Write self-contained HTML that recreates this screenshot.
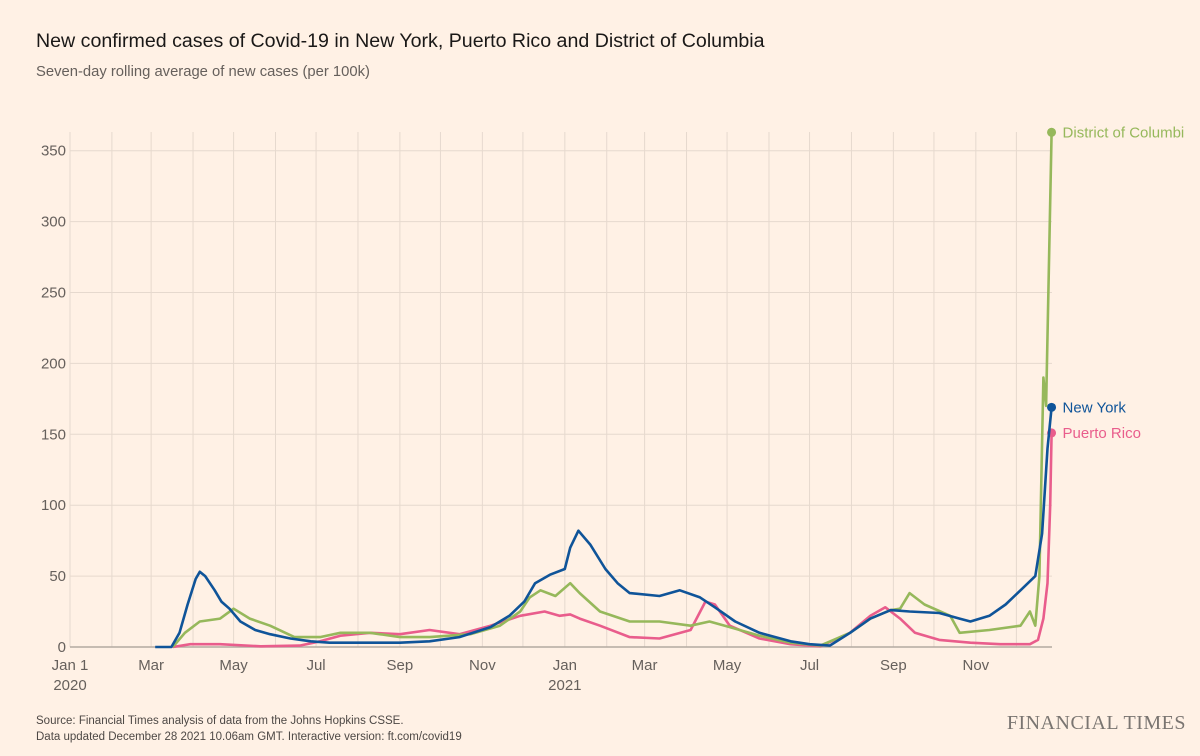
<!DOCTYPE html>
<html><head><meta charset="utf-8">
<style>
body{margin:0;background:#fff1e5;font-family:"Liberation Sans",sans-serif;}
#wrap{position:relative;width:1200px;height:756px;overflow:hidden;background:#fff1e5;}
</style></head>
<body>
<div id="wrap">
<svg id="chart" width="1200" height="756">
<text x="36" y="47" font-size="19.6" fill="#1a1817">New confirmed cases of Covid-19 in New York, Puerto Rico and District of Columbia</text>
<text x="36" y="76" font-size="14.8" fill="#66605c">Seven-day rolling average of new cases (per 100k)</text>
<g id="grid"></g>
<g id="yaxis"></g>
<g id="xaxis"></g>
<g id="series"></g>
<text x="36" y="724" font-size="11.5" fill="#4d4845">Source: Financial Times analysis of data from the Johns Hopkins CSSE.</text>
<text x="36" y="740" font-size="11.5" fill="#4d4845">Data updated December 28 2021 10.06am GMT. Interactive version: ft.com/covid19</text>
<text x="1186" y="729" font-size="20" text-anchor="end" fill="#7a7571" font-family="Liberation Serif, serif" letter-spacing="0.5">FINANCIAL TIMES</text>
</svg>
</div>
<script>
const yTicks=[0,50,100,150,200,250,300,350];
const xTickDays=[0,60,121,182,244,305,366,425,486,547,609,670];
const xTickLabels=["Jan 1","Mar","May","Jul","Sep","Nov","Jan","Mar","May","Jul","Sep","Nov"];
const xTickSub=["2020","","","","","","2021","","","","",""];
const nyDays=[63,75,81,87,93,96,100,107,112,118,126,137,148,163,178,192,214,244,266,288,311,325,336,344,355,366,370,376,385,396,405,414,436,451,466,477,492,510,533,547,562,577,592,607,621,643,658,666,680,692,703,714,719,723,726];
const nyVals=[0,0,10,30,48,53,50,40,32,27,18,12,9,6,4,3,3,3,4,7,14,22,32,45,51,55,70,82,72,55,45,38,36,40,35,28,18,10,4,2,1,10,20,26,25,24,20,18,22,30,40,50,80,140,169];
const prDays=[76,89,111,141,170,185,200,222,244,266,288,311,333,351,362,370,377,392,414,436,459,470,477,488,510,533,555,577,592,603,614,625,643,666,688,710,716,720,723,725,726];
const prVals=[0,2,2,0.5,1,4,8,10,9,12,9,15,22,25,22,23,20,15,7,6,12,32,30,15,6,2,0.5,10,22,28,20,10,5,3,2,2,5,20,45,100,151];
const dcDays=[76,85,96,111,121,133,148,166,185,200,222,244,266,296,318,333,340,348,359,370,377,392,414,436,459,473,488,510,533,555,577,592,607,614,621,632,651,658,680,703,710,714,717,720,722,726];
const dcVals=[0,10,18,20,27,20,15,7,7,10,10,7,7,9,15,25,35,40,36,45,38,25,18,18,15,18,14,8,3,1,10,20,26,27,38,30,22,10,12,15,25,15,50,190,170,363];

const X0=70,PXD=1.352,Y0=647,PXU=70.9/50;
const xs=d=>X0+d*PXD, ys=v=>Y0-v*PXU;
const NS="http://www.w3.org/2000/svg";
function mk(t,p,a){const e=document.createElementNS(NS,t);for(const k in a)e.setAttribute(k,a[k]);p.appendChild(e);return e;}
const grid=document.getElementById('grid'),ya=document.getElementById('yaxis'),xa=document.getElementById('xaxis'),sr=document.getElementById('series');
const monthDays=[0,31,60,91,121,152,182,213,244,274,305,335,366,397,425,456,486,517,547,578,609,639,670,700];
monthDays.forEach(d=>{const l=mk('line',grid,{x1:xs(d),x2:xs(d),y1:132,y2:Y0,stroke:'#e6d9ce','stroke-width':1});

});
yTicks.forEach(v=>{const l=mk('line',grid,{x1:X0,x2:1052,y1:ys(v),y2:ys(v),stroke:v===0?'#b3aaa2':'#e6d9ce','stroke-width':v===0?1.5:1});


const t=mk('text',ya,{x:66,y:ys(v)+5,'text-anchor':'end','font-size':15,fill:'#66605c'});t.textContent=v;

});
xTickDays.forEach((d,i)=>{const t=mk('text',xa,{x:xs(d),y:670,'text-anchor':'middle','font-size':15,fill:'#66605c'});t.textContent=xTickLabels[i];


if(xTickSub[i]){const s=mk('text',xa,{x:xs(d),y:690,'text-anchor':'middle','font-size':15,fill:'#66605c'});s.textContent=xTickSub[i];

}});
function line(days,vals,col,name,label,dy){
 const p=mk('path',sr,{d:days.map((d,i)=>(i?'L':'M')+xs(d).toFixed(1)+','+ys(vals[i]).toFixed(1)).join(''),fill:'none',stroke:col,'stroke-width':2.6,'stroke-linejoin':'round'});
 
 
 const n=days.length-1,cx=xs(days[n]),cy=ys(vals[n]);
 const c=mk('circle',sr,{cx:cx,cy:cy,r:4.5,fill:col});
 
 
 const t=mk('text',sr,{x:cx+11,y:cy+5+dy,'font-size':15,fill:col});t.textContent=label;
 
 
}
line(prDays,prVals,'#e95d8c','puerto-rico','Puerto Rico',0);
line(dcDays,dcVals,'#96b85b','district-of-columbia','District of Columbi',0);
line(nyDays,nyVals,'#0f5499','new-york','New York',0);
</script>
</body></html>
